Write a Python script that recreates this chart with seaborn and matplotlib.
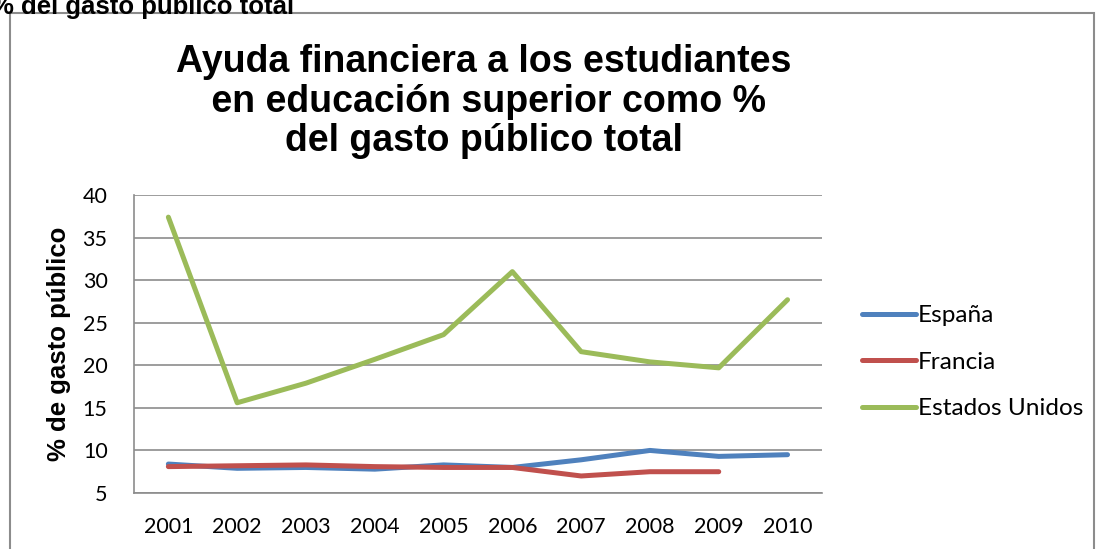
import seaborn as sns
import matplotlib.pyplot as plt
import pandas as pd
from matplotlib.patches import Rectangle

years = ['2001', '2002', '2003', '2004', '2005', '2006', '2007', '2008', '2009', '2010']
espana = [8.4, 7.9, 8.0, 7.8, 8.3, 8.0, 8.9, 10.0, 9.3, 9.5]
francia = [8.1, 8.2, 8.3, 8.1, 8.0, 8.0, 7.0, 7.5, 7.5, None]
eeuu = [37.4, 15.6, 17.9, 20.7, 23.6, 31.0, 21.6, 20.4, 19.7, 27.7]
series = ['España', 'Francia', 'Estados Unidos']
colors = ['#4F81BD', '#C0504D', '#9BBB59']

rows = []
for name, vals in zip(series, [espana, francia, eeuu]):
    for i, (y, v) in enumerate(zip(years, vals)):
        if v is not None:
            rows.append({'idx': i, 'year': y, 'value': v, 'pais': name})
df = pd.DataFrame(rows)

sns.set_style('white')
plt.rcParams['font.family'] = ['Liberation Sans', 'DejaVu Sans']
plt.rcParams['text.color'] = 'black'
plt.rcParams['axes.labelcolor'] = 'black'
plt.rcParams['xtick.color'] = 'black'
plt.rcParams['ytick.color'] = 'black'

fig = plt.figure(figsize=(10.99, 5.49), dpi=100)
ax = fig.add_axes([0.1219, 0.102, 0.626, 0.5428])

sns.lineplot(data=df, x='idx', y='value', hue='pais', hue_order=series,
             palette=colors, linewidth=3.6, ax=ax, legend=True)

ax.set_xlim(-0.5, 9.5)
ax.set_ylim(5, 40)
ax.set_yticks(range(5, 41, 5))
ax.set_xticks(range(len(years)))
tick_font = {'family': ['Lato', 'DejaVu Sans'], 'size': 15.5}
ax.set_xticklabels(years, fontdict=tick_font)
ax.set_yticklabels([str(v) for v in range(5, 41, 5)], fontdict=tick_font)
ax.tick_params(axis='y', length=0, pad=19)
ax.tick_params(axis='x', length=0, pad=17)
ax.grid(axis='y', color='#8c8c8c', linewidth=1.2)
ax.set_axisbelow(True)
for side in ['top', 'right']:
    ax.spines[side].set_visible(False)
for side in ['left', 'bottom']:
    ax.spines[side].set_color('#8c8c8c')
    ax.spines[side].set_linewidth(1.2)
ax.set_xlabel('')
ax.set_ylabel('% de gasto público', fontsize=18.5, fontweight='bold', labelpad=8)

handles, labels = ax.get_legend_handles_labels()
ax.legend(handles, labels, loc='center left', bbox_to_anchor=(0.7843, 0.34),
          bbox_transform=fig.transFigure, frameon=False, handlelength=2.2,
          handletextpad=0.1, labelspacing=1.04, borderpad=0, borderaxespad=0,
          prop={'family': ['Lato', 'DejaVu Sans'], 'size': 17.6})

fig.text(0.44, 0.92, 'Ayuda financiera a los estudiantes\n en educación superior como %\ndel gasto público total',
         ha='center', va='top', fontsize=27, fontweight='bold', linespacing=1.13)

fig.text(-0.008, 1.01, '% del gasto público total', ha='left', va='top',
         fontsize=18.5, fontweight='bold')

fig.patches.append(Rectangle((0.009, -0.05), 0.986, 1.026, transform=fig.transFigure,
                             fill=False, edgecolor='#8c8c8c', linewidth=1.5))

fig.savefig('out.png', dpi=100)
